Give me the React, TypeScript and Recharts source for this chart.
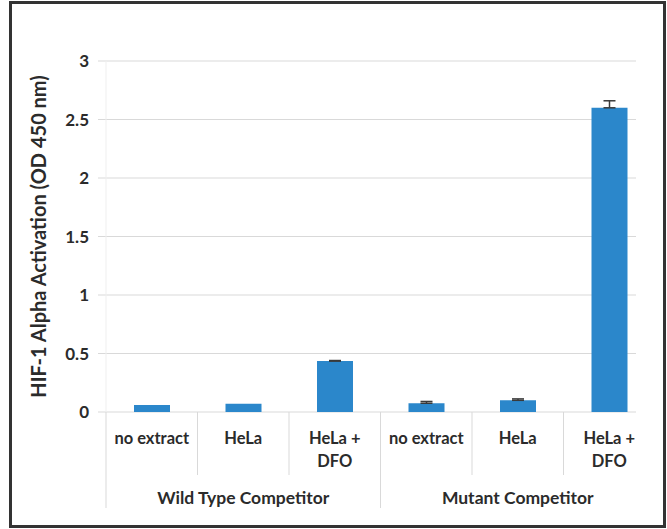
import React from "react";
import { BarChart, Bar, XAxis, YAxis, CartesianGrid, ErrorBar } from "recharts";

const categories = ["no extract", "HeLa", "HeLa + DFO", "no extract", "HeLa", "HeLa + DFO"];
const groups = ["Wild Type Competitor", "Mutant Competitor"];
const values = [0.06, 0.07, 0.435, 0.075, 0.1, 2.6];
const errors = [0, 0, 0.005, 0.015, 0.012, 0.06];
const yTicks = [0, 0.5, 1, 1.5, 2, 2.5, 3];
const yLabel = "HIF-1 Alpha Activation (OD 450 nm)";

const data = categories.map((c, i) => ({
  key: `${i}`,
  name: c,
  value: values[i],
  err: errors[i] > 0 ? [0, errors[i]] : undefined,
}));

const FONT = "Lato, 'Open Sans', sans-serif";
const TEXT = "#2b2b2b";
const SEP = "#d9d9d9";

const CategoryTick = (props: any) => {
  const { x, y, payload, index } = props;
  const half = payload && payload.offset ? payload.offset : 45.75;
  const label = categories[index] || "";
  const lines = label.includes("+") ? ["HeLa +", "DFO"] : [label];
  const pos = index % 3;
  const items: any[] = [];
  lines.forEach((ln, k) => {
    items.push(
      <text
        key={`t${k}`}
        x={x}
        y={y + 32 + k * 23}
        textAnchor="middle"
        fill={TEXT}
        fontFamily={FONT}
        fontWeight={700}
        fontSize={16.5}
      >
        {ln}
      </text>
    );
  });
  if (index === 0) {
    items.push(<line key="l0" x1={x - half} x2={x - half} y1={y} y2={y + 96} stroke={SEP} />);
  }
  if (index < categories.length - 1) {
    const long = pos === 2;
    items.push(
      <line key="r" x1={x + half} x2={x + half} y1={y} y2={y + (long ? 96 : 63)} stroke={SEP} />
    );
  }
  if (pos === 1) {
    items.push(
      <text
        key="g"
        x={x}
        y={y + 92}
        textAnchor="middle"
        fill={TEXT}
        fontFamily={FONT}
        fontWeight={700}
        fontSize={17.5}
      >
        {groups[Math.floor(index / 3)]}
      </text>
    );
  }
  return <g>{items}</g>;
};

const GridLine = (props: any) => {
  const { x1, x2, y1, y2 } = props;
  return <line x1={x1 - 8} x2={x2 - 19} y1={y1} y2={y2} stroke={SEP} strokeWidth={1} />;
};

const YLabel = (props: any) => {
  const vb = props.viewBox || { x: 40, y: 61, width: 66, height: 351 };
  const cx = vb.x - 2;
  const cy = vb.y + vb.height / 2;
  return (
    <text
      x={cx}
      y={cy}
      transform={`rotate(-90, ${cx}, ${cy})`}
      textAnchor="middle"
      dominantBaseline="central"
      fill={TEXT}
      fontFamily={FONT}
      fontWeight={700}
      fontSize={20}
    >
      {yLabel}
    </text>
  );
};

export default function App() {
  return (
    <div style={{ position: "absolute", left: 0, top: 0, width: 667, height: 529, background: "#fff" }}>
      <div
        style={{
          position: "absolute",
          left: 9,
          top: 1,
          width: 657,
          height: 527,
          border: "3px solid #333",
          boxSizing: "border-box",
        }}
      />
      <div style={{ position: "absolute", left: 0, top: 0 }}>
        <BarChart
          width={667}
          height={529}
          data={data}
          margin={{ top: 61, right: 12, left: 40, bottom: 0 }}
          barCategoryGap={0}
        >
          <CartesianGrid vertical={false} horizontal={GridLine as any} />
          <XAxis
            dataKey="key"
            height={117}
            axisLine={false}
            tickLine={false}
            tickSize={0}
            tickMargin={0}
            interval={0}
            tick={CategoryTick as any}
          />
          <YAxis
            width={66}
            domain={[0, 3]}
            ticks={yTicks}
            axisLine={{ stroke: "#efefef" }}
            tickLine={false}
            tickSize={8}
            tickMargin={9}
            tick={{ fill: TEXT, fontFamily: FONT, fontWeight: 700, fontSize: 17 }}
            label={<YLabel />}
          />
          <Bar dataKey="value" fill="#2b87cb" barSize={36} isAnimationActive={false}>
            <ErrorBar dataKey="err" width={6} stroke="#3a3a3a" strokeWidth={1.5} />
          </Bar>
        </BarChart>
      </div>
    </div>
  );
}
